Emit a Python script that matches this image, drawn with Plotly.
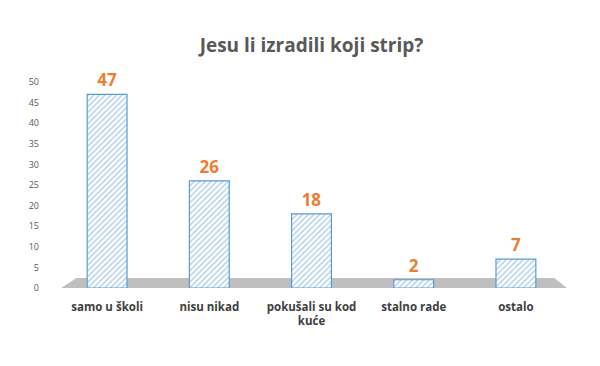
import plotly.graph_objects as go

categories = ["samo u školi", "nisu nikad", "pokušali su kod<br>kuće", "stalno rade", "ostalo"]
values = [47, 26, 18, 2, 7]
y_ticks = [0, 5, 10, 15, 20, 25, 30, 35, 40, 45, 50]

blue = "#5B9BD5"

fig = go.Figure()
fig.add_trace(go.Bar(
    x=categories, y=values, width=0.39,
    marker=dict(color="#DDEBF7", line=dict(color=blue, width=1.2),
                pattern=dict(shape="/", fgcolor=blue, bgcolor="#FFFFFF", size=4, solidity=0.35)),
    text=[str(v) for v in values], textposition="outside", cliponaxis=False,
    textfont=dict(color="#ED7D31", size=17, family="Open Sans", weight="bold"),
))

# gray floor
fig.add_shape(type="path", xref="paper", yref="y",
              path="M 0.01 0 L 1.0 0 L 0.975 2.4 L 0.04 2.4 Z",
              fillcolor="#BFBFBF", line=dict(width=0), layer="below")

# page body has an 8px margin, so margins are shifted to compensate
fig.update_layout(
    width=600, height=366, plot_bgcolor="white", paper_bgcolor="white",
    margin=dict(l=48, r=41, t=74, b=86, autoexpand=False),
    title=dict(text="<b>Jesu li izradili koji strip?</b>", x=(107 + 516) / 2 / 600 - 8 / 600 + 0.0, xanchor="center",
               y=1 - 37 / 366, yanchor="middle",
               font=dict(size=19, color="#595959", family="Open Sans")),
    showlegend=False,
    xaxis=dict(showgrid=False, showline=False, ticks="", automargin=False, ticklabelstandoff=10,
               tickfont=dict(size=11.5, color="#404040", family="Open Sans", weight="bold")),
    yaxis=dict(range=[0, 50], tickvals=y_ticks, showgrid=False, zeroline=False, showline=False, automargin=False,
               tickfont=dict(size=9, color="#595959", family="Open Sans"), ticklabelstandoff=16),
)
fig.write_html("out.html")
